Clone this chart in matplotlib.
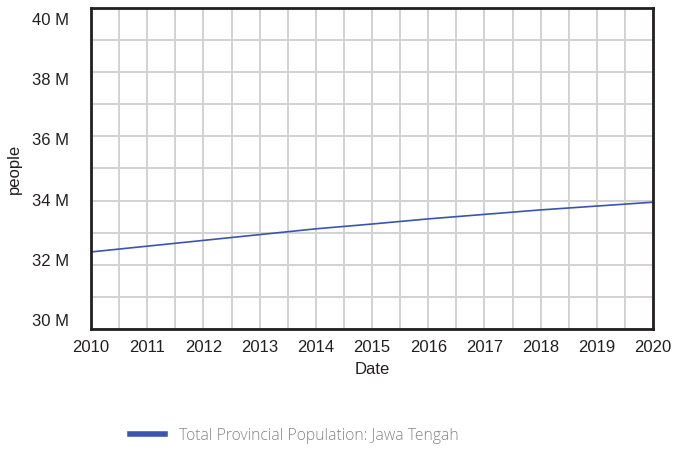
import matplotlib
matplotlib.use("Agg")
import matplotlib.pyplot as plt
from matplotlib.ticker import MultipleLocator, FuncFormatter
from matplotlib.lines import Line2D

years = [2010, 2011, 2012, 2013, 2014, 2015, 2016, 2017, 2018, 2019, 2020]
population = [32.40e6, 32.58e6, 32.76e6, 32.94e6, 33.12e6, 33.27e6,
              33.43e6, 33.57e6, 33.71e6, 33.83e6, 33.95e6]
series_name = "Total Provincial Population: Jawa Tengah"

plt.rcParams['font.family'] = ['Liberation Sans', 'DejaVu Sans']

fig = plt.figure(figsize=(6.74, 4.58), dpi=100)
ax = fig.add_axes([0.135, 0.2817, 0.834, 0.7008])

ax.plot(years, population, color='#3a55ad', linewidth=1.2)

ax.set_xlim(2010, 2020)
ax.set_ylim(30e6, 40e6)
ax.xaxis.set_major_locator(MultipleLocator(1))
ax.xaxis.set_minor_locator(MultipleLocator(0.5))
ax.yaxis.set_major_locator(MultipleLocator(2e6))
ax.yaxis.set_minor_locator(MultipleLocator(1e6))
ax.xaxis.set_major_formatter(FuncFormatter(lambda v, p: f"{int(round(v))}"))
ax.grid(True, which='both', color='#d2d2d2', linewidth=1.4)
ax.set_axisbelow(True)
ax.tick_params(which='both', length=0, labelsize=12, labelcolor='#231f20')
ax.tick_params(axis='x', pad=8)
ax.tick_params(axis='y', labelleft=False)
for s in ax.spines.values():
    s.set_linewidth(2)
    s.set_color('#231f20')

# tick labels on the y axis sit on a slightly squeezed scale
lab = ax.twinx()
lab.set_ylim(29.70e6, 40.365e6)
lab.yaxis.set_major_locator(MultipleLocator(2e6))
lab.yaxis.set_major_formatter(FuncFormatter(lambda v, p: f"{int(round(v / 1e6))} M"))
lab.yaxis.tick_left()
lab.tick_params(length=0, labelsize=12, labelcolor='#231f20', pad=16)
for s in lab.spines.values():
    s.set_visible(False)

ax.set_xlabel('Date', fontsize=12, color='#231f20', labelpad=5)
ax.set_ylabel('people', fontsize=12, color='#231f20', labelpad=50)

handle = Line2D([], [], color='#3a55ad', linewidth=4)
fig.legend([handle], [series_name], loc='center left', bbox_to_anchor=(0.172, 0.049),
           frameon=False, handlelength=2.2, handletextpad=0.95,
           prop={'family': 'Open Sans', 'size': 11.3, 'weight': 'light'},
           labelcolor='#858585')

fig.savefig('out.png', dpi=100)
